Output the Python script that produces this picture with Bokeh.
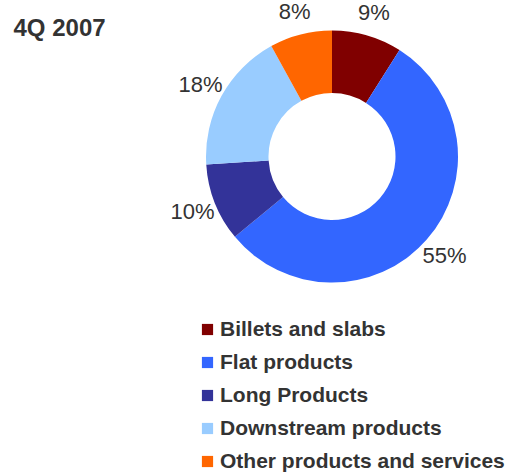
import math
from bokeh.plotting import figure
from bokeh.models import Range1d, ColumnDataSource, Legend, LegendItem
from bokeh.core.properties import value
from bokeh.embed import file_html
from bokeh.resources import INLINE

# ---- data ----
title_text = "4Q 2007"
categories = ["Billets and slabs", "Flat products", "Long Products",
              "Downstream products", "Other products and services"]
shares = [9, 55, 10, 18, 8]
colors = ["#800000", "#3366FF", "#333399", "#99CCFF", "#FF6600"]

# ---- layout (pixel-like data space) ----
W, H = 523, 474
cx, cy = 331.5, H - 156.0
r_out, r_in = 126.0, 63.5
r_lab = 150.0

total = float(sum(shares))
starts, ends, lx, ly, labels = [], [], [], [], []
cum = 0.0
for s in shares:
    a0 = math.pi / 2 - 2 * math.pi * cum / total
    cum += s
    a1 = math.pi / 2 - 2 * math.pi * cum / total
    starts.append(a0)
    ends.append(a1)
    am = (a0 + a1) / 2
    lx.append(cx + r_lab * math.cos(am))
    ly.append(cy + r_lab * math.sin(am))
    labels.append(f"{s:g}%")

src = ColumnDataSource(dict(cat=categories, share=shares, color=colors,
                            start=starts, end=ends, lx=lx, ly=ly, lab=labels))

p = figure(width=W, height=H, x_range=Range1d(0, W), y_range=Range1d(0, H),
           output_backend="svg", toolbar_location=None, min_border=0)
p.axis.visible = False
p.grid.visible = False
p.outline_line_color = None
p.background_fill_color = "white"
p.border_fill_color = "white"

wr = p.annular_wedge(x=cx, y=cy, inner_radius=r_in, outer_radius=r_out,
                     start_angle="start", end_angle="end", direction="clock",
                     fill_color="color", line_color=None, source=src)

p.text(x="lx", y="ly", text="lab", source=src,
       text_font=value("Liberation Sans"), text_font_size="22px",
       text_color="#333333", text_align="center", text_baseline="middle")

p.text(x=[13], y=[H - 27], text=[title_text],
       text_font=value("Liberation Sans"), text_font_size="24px",
       text_font_style="bold", text_color="#333333",
       text_align="left", text_baseline="middle")

items = [LegendItem(label=c, renderers=[wr], index=i) for i, c in enumerate(categories)]
legend = Legend(items=items, location=(200, 1), orientation="vertical",
                glyph_width=14, glyph_height=14, label_standoff=6,
                padding=0, margin=0, spacing=9,
                border_line_color=None, background_fill_alpha=0,
                label_text_font="Liberation Sans", label_text_font_style="bold",
                label_text_font_size="21px", label_text_color="#333333")
p.add_layout(legend, "center")

open("out.html", "w").write(file_html(p, INLINE))
